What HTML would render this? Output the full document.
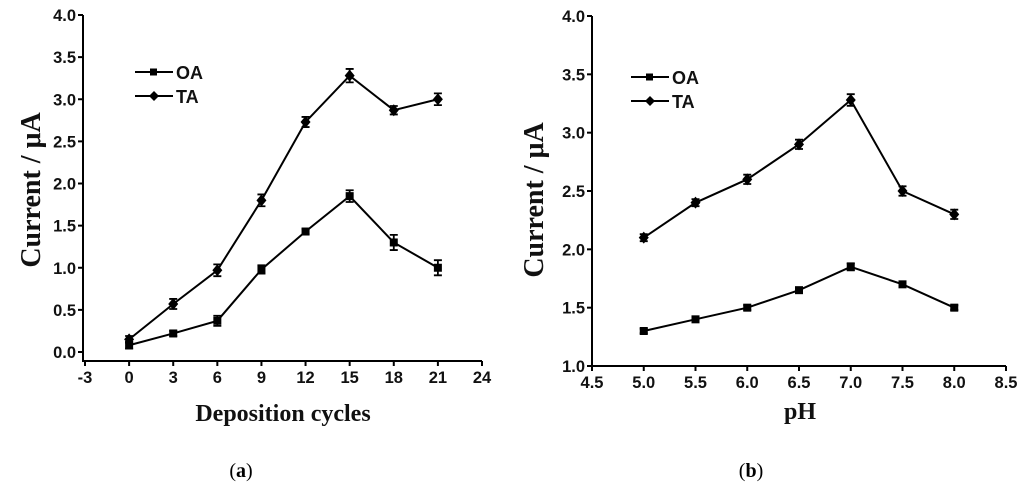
<!DOCTYPE html>
<html><head><meta charset="utf-8"><style>
body{margin:0;background:#fff;}
svg{display:block;font-family:"Liberation Sans",sans-serif;}
.t{font-weight:bold;font-size:16.5px;fill:#111;}
.ti{font-family:"Liberation Serif",serif;font-weight:bold;fill:#111;}
</style></head><body>
<svg id="s" width="1024" height="491">
<text class="ti" x="283" y="421" font-size="24" text-anchor="middle">Deposition cycles</text>
<text class="ti" x="800" y="419" font-size="24" text-anchor="middle">pH</text>
<text class="ti" transform="translate(40,190) rotate(-90)" font-size="28" text-anchor="middle">Current / μA</text>
<text class="ti" transform="translate(543,200) rotate(-90)" font-size="28" text-anchor="middle">Current / μA</text>
<text x="241" y="477" font-family="Liberation Serif,serif" font-size="20" text-anchor="middle">(<tspan font-weight="bold">a</tspan>)</text>
<text x="751" y="477" font-family="Liberation Serif,serif" font-size="20" text-anchor="middle">(<tspan font-weight="bold">b</tspan>)</text>
</svg>
<script>
const aX=[0,3,6,9,12,15,18,21];
const aOA=[0.08,0.22,0.37,0.98,1.43,1.85,1.30,1.00];
const aOAe=[0.04,0.03,0.06,0.05,0.03,0.07,0.09,0.09];
const aTA=[0.15,0.57,0.97,1.80,2.73,3.28,2.87,3.00];
const aTAe=[0.04,0.06,0.07,0.07,0.06,0.08,0.05,0.07];
const aXt=[-3,0,3,6,9,12,15,18,21,24];
const aYt=[0,0.5,1,1.5,2,2.5,3,3.5,4];
const bX=[5,5.5,6,6.5,7,7.5,8];
const bOA=[1.30,1.40,1.50,1.65,1.85,1.70,1.50];
const bOAe=[0.02,0.02,0.02,0.02,0.03,0.02,0.02];
const bTA=[2.10,2.40,2.60,2.90,3.28,2.50,2.30];
const bTAe=[0.03,0.03,0.04,0.04,0.05,0.04,0.04];
const bXt=[4.5,5,5.5,6,6.5,7,7.5,8,8.5];
const bYt=[1,1.5,2,2.5,3,3.5,4];
const S=document.getElementById('s'),NS='http://www.w3.org/2000/svg';
function mk(t,a,p){const e=document.createElementNS(NS,t);for(const k in a)e.setAttribute(k,a[k]);(p||S).appendChild(e);return e;}
function chart(c){
 const g=mk('g',{});
 
 
 const sx=v=>c.x0+(v-c.xmin)/(c.xmax-c.xmin)*(c.x1-c.x0);
 const sy=v=>c.y0+(v-c.ymin)/(c.ymax-c.ymin)*(c.y1-c.y0);
 const ax=mk('path',{d:`M${c.ax},${sy(c.yt[c.yt.length-1])}V${c.axY}H${c.x1}`,fill:'none',stroke:'#000','stroke-width':2},g);
 
 
 c.xt.forEach(v=>{mk('line',{x1:sx(v),x2:sx(v),y1:c.axY,y2:c.axY+5,stroke:'#000','stroke-width':2},g);
  const t=mk('text',{x:sx(v),y:c.axY+22,'text-anchor':'middle',class:'t'},g);t.textContent=c.xf(v);
  
  });
 c.yt.forEach(v=>{mk('line',{x1:c.ax-5,x2:c.ax,y1:sy(v),y2:sy(v),stroke:'#000','stroke-width':2},g);
  const t=mk('text',{x:c.ax-7,y:sy(v)+6,'text-anchor':'end',class:'t'},g);t.textContent=v.toFixed(1);
  
  });
 [[c.oa,c.oae,'sq','OA'],[c.ta,c.tae,'di','TA']].forEach(([ys,es,m,nm],si)=>{
  const sg=mk('g',{},g);
  
  
  mk('polyline',{points:c.xs.map((x,i)=>sx(x)+','+sy(ys[i])).join(' '),fill:'none',stroke:'#000','stroke-width':2},sg);
  c.xs.forEach((x,i)=>{const X=sx(x),Y=sy(ys[i]),t=sy(ys[i]+es[i]),b=sy(ys[i]-es[i]);
   mk('path',{d:`M${X},${t}V${b}M${X-4},${t}H${X+4}M${X-4},${b}H${X+4}`,stroke:'#000','stroke-width':1.8,fill:'none'},sg);
   const mkr=m=='sq'?mk('rect',{x:X-4,y:Y-4,width:8,height:8,fill:'#000'},sg):mk('path',{d:`M${X},${Y-6}L${X+5},${Y}L${X},${Y+6}L${X-5},${Y}Z`,fill:'#000'},sg);
   
   });
  const ly=c.ly+si*24,lx=c.lx;
  const lg=mk('g',{},g);
  
  
  mk('line',{x1:lx,x2:lx+38,y1:ly,y2:ly,stroke:'#000','stroke-width':2},lg);
  if(m=='sq')mk('rect',{x:lx+15,y:ly-3.5,width:7,height:7},lg);else mk('path',{d:`M${lx+19},${ly-5}L${lx+24},${ly}L${lx+19},${ly+5}L${lx+14},${ly}Z`},lg);
  const tt=mk('text',{x:lx+41,y:ly+7,'font-size':18,'font-weight':'bold',fill:'#111'},lg);tt.textContent=nm;
 });
}
chart({name:'chart-a',xs:aX,oa:aOA,oae:aOAe,ta:aTA,tae:aTAe,xt:aXt,yt:aYt,xf:v=>String(v),
 xmin:-3,xmax:24,x0:85,x1:482,ymin:0,ymax:4,y0:352,y1:15,ax:83,axY:361,lx:135,ly:72});
chart({name:'chart-b',xs:bX,oa:bOA,oae:bOAe,ta:bTA,tae:bTAe,xt:bXt,yt:bYt,xf:v=>v.toFixed(1),
 xmin:4.5,xmax:8.5,x0:592,x1:1006,ymin:1,ymax:4,y0:366,y1:16,ax:592,axY:366,lx:631,ly:77});
</script>
</body></html>
